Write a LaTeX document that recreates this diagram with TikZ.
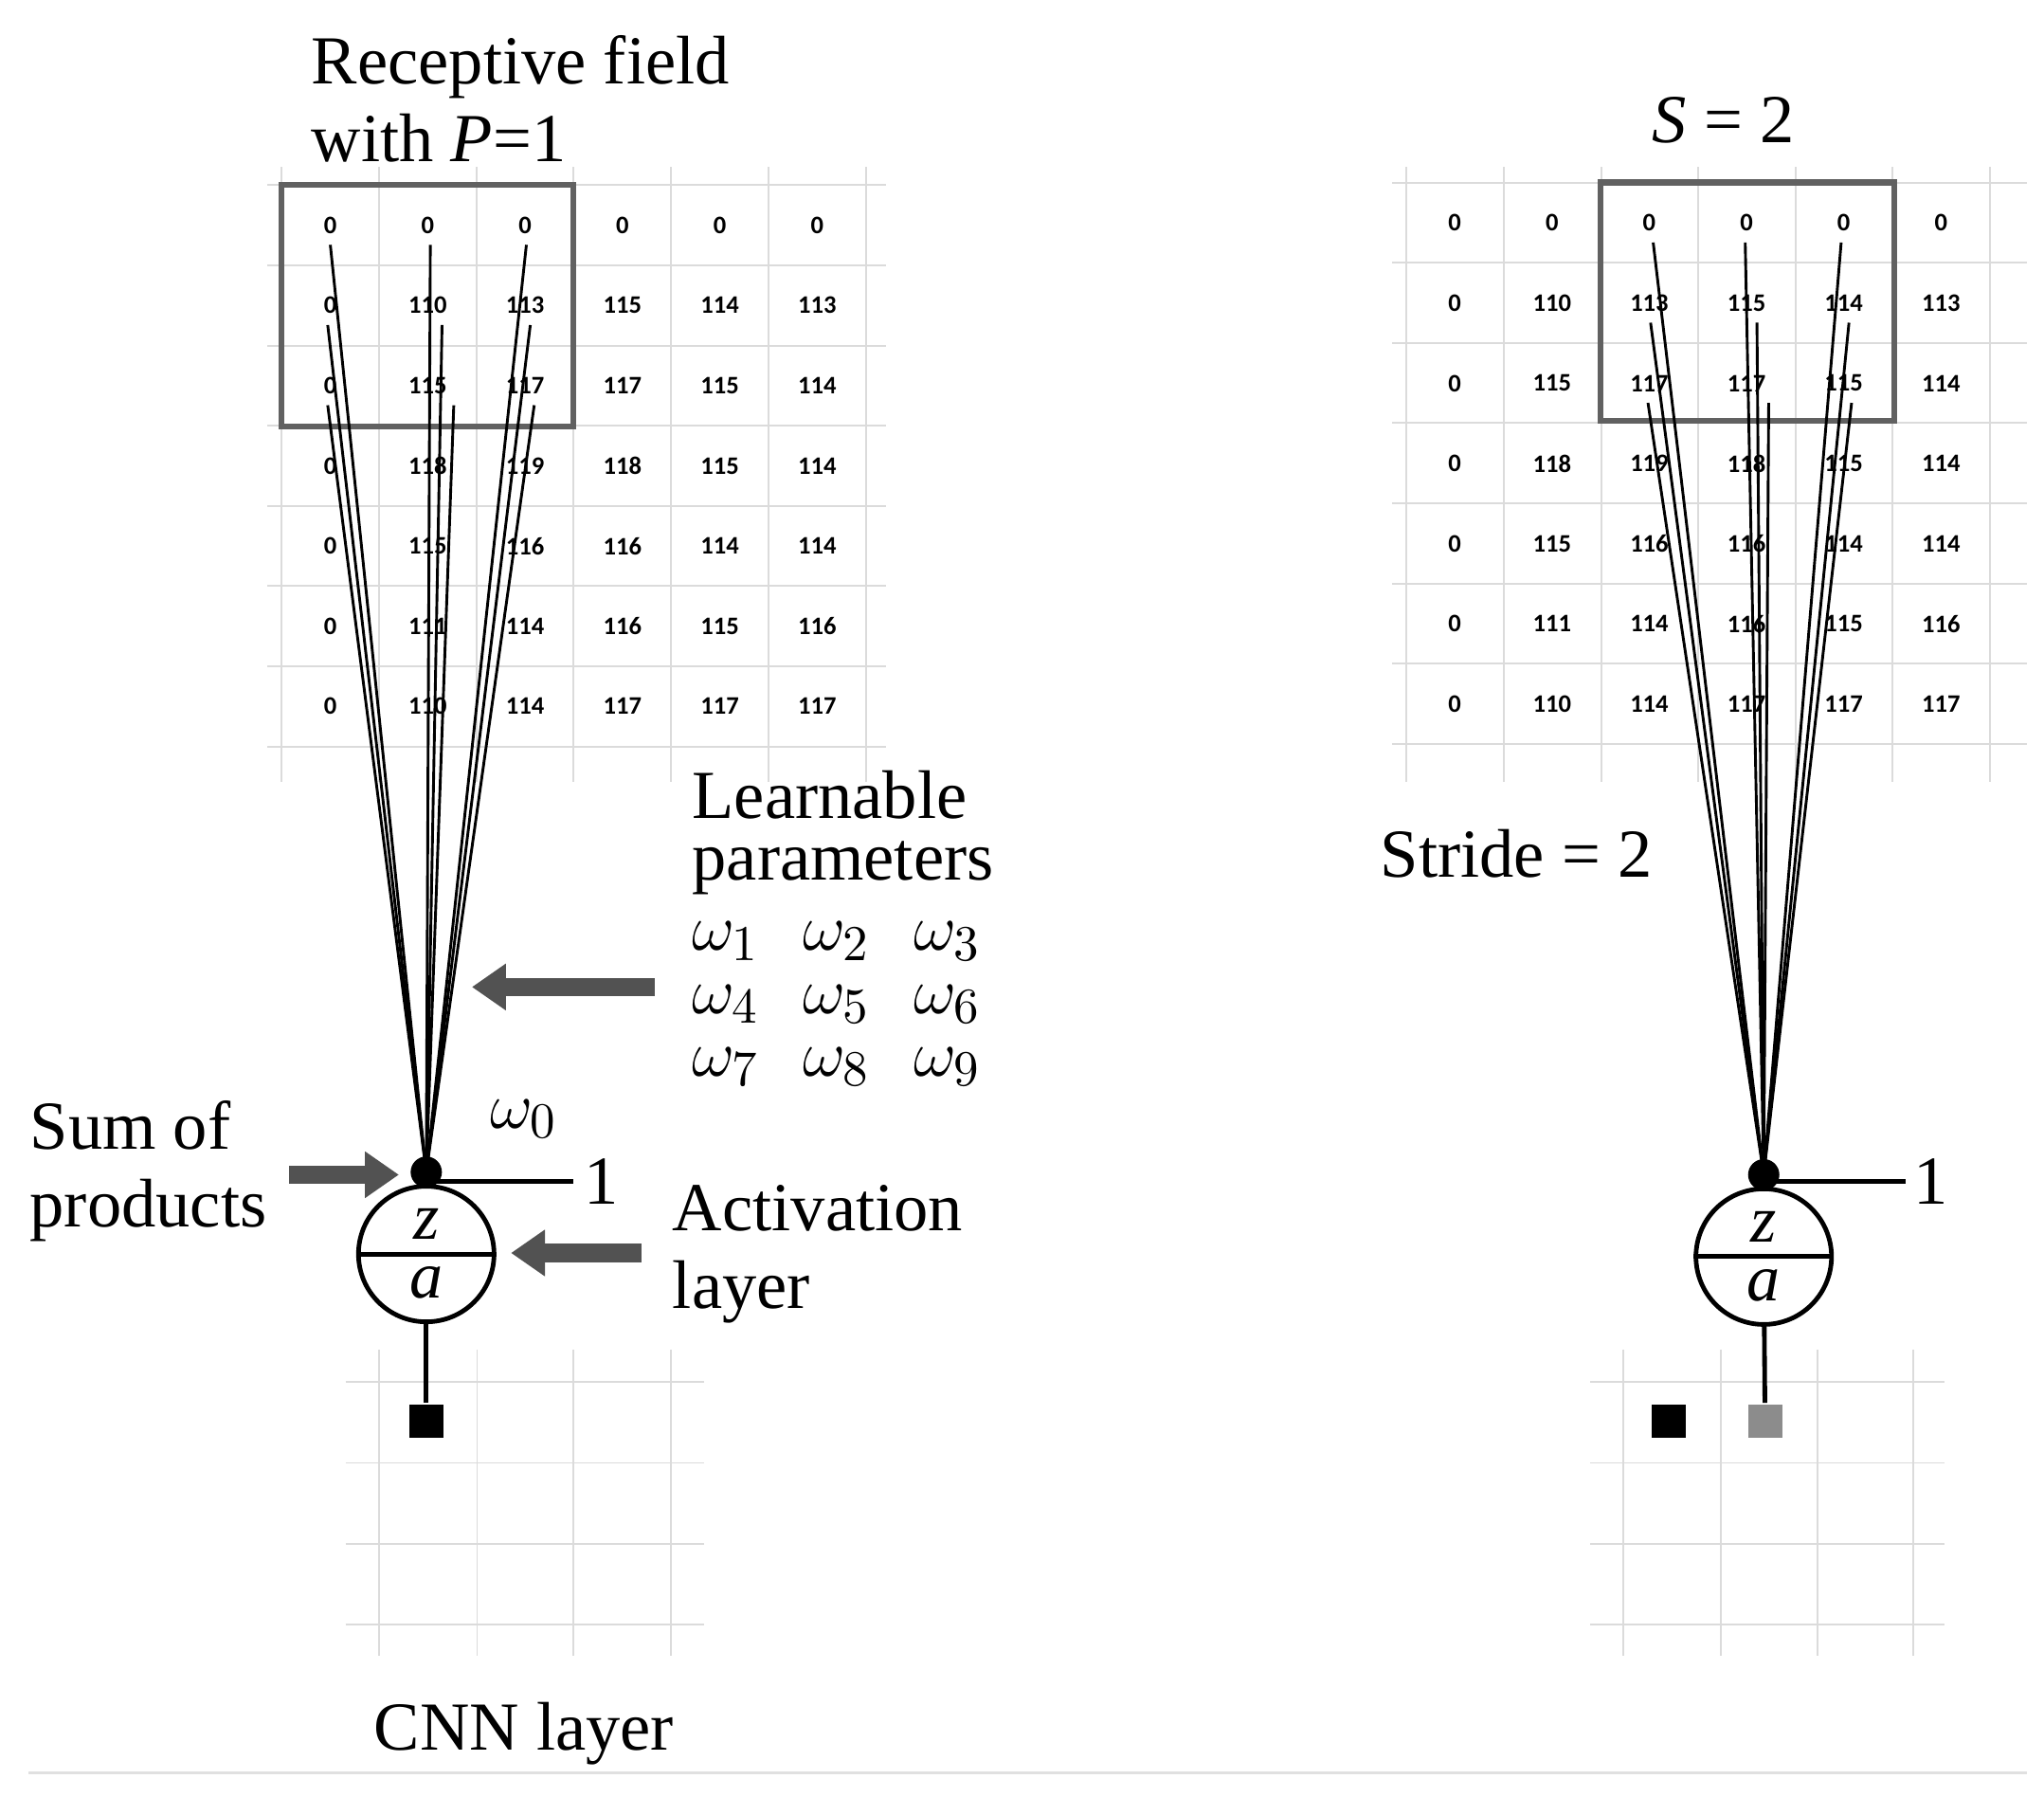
\documentclass[tikz,border=0pt]{standalone}
\usepackage{fontspec}
\setmainfont{Liberation Serif}
\newfontfamily\cellfont{Carlito}
\usetikzlibrary{arrows.meta,positioning,calc}

\begin{document}
\begin{tikzpicture}[x=0.1mm, y=-0.1mm, semithick, node distance=1mm]
\tikzstyle{txt}=[font=\fontsize{15}{17}\selectfont, inner sep=0pt, align=left]
\tikzstyle{part}=[font=\fontsize{14.5}{12.8}\selectfont\itshape, inner sep=0pt, align=center]
\tikzstyle{cell}=[font=\cellfont\bfseries\fontsize{5.5}{6}\selectfont, inner sep=0pt]
\tikzstyle{gridline}=[draw=black!14, line width=0.4pt]
\tikzstyle{rfbox}=[draw=black!62, line width=1.3pt]
\tikzstyle{fan}=[draw=black, line width=0.6pt]
\tikzstyle{wire}=[draw=black, line width=1pt]
\tikzstyle{dot}=[circle, fill=black, inner sep=0pt, minimum size=2.4mm]
\tikzstyle{unit}=[circle, draw=black, line width=1pt, inner sep=0pt, minimum size=10.4mm]
\tikzstyle{outsq}=[rectangle, inner sep=0pt, minimum size=2.6mm]
\tikzstyle{bigarrow}=[draw=black!68, line width=1.4mm, -{Triangle[length=2.6mm,width=3.4mm]}]

\useasboundingbox (0,0) rectangle (1568,1378);

\foreach \k in {0,...,6} {
  \draw[gridline] ({216+74.7*\k},128) -- ({216+74.7*\k},600);
  \draw[gridline] ({1079+74.6*\k},128) -- ({1079+74.6*\k},600);
}
\foreach \k in {0,...,7} {
  \draw[gridline] (205,{142+61.5*\k}) -- (680,{142+61.5*\k});
  \draw[gridline] (1068,{140+61.5*\k}) -- (1555,{140+61.5*\k});
}
\foreach \row [count=\ri from 0] in {{0,0,0,0,0,0},{0,110,113,115,114,113},{0,115,117,117,115,114},{0,118,119,118,115,114},{0,115,116,116,114,114},{0,111,114,116,115,116},{0,110,114,117,117,117}}
  \foreach \v [count=\ci from 0] in \row {
    \node[cell] (L-\ri-\ci) at ({253.4+74.7*\ci},{172.8+61.5*\ri}) {\v};
    \node[cell] (R-\ri-\ci) at ({1116+74.6*\ci},{171+61.5*\ri}) {\v};
  }
\draw[rfbox] (216,142) rectangle (440,327);
\draw[rfbox] (1228,140) rectangle (1453,323);

\foreach \gx in {291,366,440,515} \draw[gridline] (\gx,1035) -- (\gx,1270);
\foreach \gx in {1245,1320,1394,1468} \draw[gridline] (\gx,1035) -- (\gx,1270);
\foreach \gy in {1060,1122,1184,1246} {
  \draw[gridline] (265,\gy) -- (540,\gy);
  \draw[gridline] (1220,\gy) -- (1492,\gy);
}

\node[dot] (Ldot) at (327,899) {};
\node[unit, below=-0.4mm of Ldot] (Lunit) {};
\draw[wire] (Lunit.west) -- (Lunit.east);
\node[part] (Lza) at (Lunit.center) {z\\a};
\node[outsq, fill=black] (Lout) at (327,1090) {};
\draw[wire] (Lunit) -- (Lout);
\coordinate (Lend) at (440,906);
\draw[wire] (Ldot.center |- Lend) -- (Lend);
\node[txt, right=0.7mm of Lend] (Lone) {1};
\node[txt] (Lw0) at (402,858) {$\omega_0$};

\node[dot] (Rdot) at (1353,901) {};
\node[unit, below=-0.4mm of Rdot] (Runit) {};
\draw[wire] (Runit.west) -- (Runit.east);
\node[part] (Rza) at (Runit.center) {z\\a};
\node[outsq, fill=black] (Rblk) at (1280,1090) {};
\node[outsq, fill=black!45] (Rout) at (1354,1090) {};
\draw[wire] (Runit) -- (Rout);
\coordinate (Rend) at (1462,906);
\draw[wire] (Rdot.center |- Rend) -- (Rend);
\node[txt, right=0.5mm of Rend] (Rone) {1};

\foreach \ri/\ci/\dx in {0/0/0,0/1/2,0/2/1,1/0/-2,1/1/11,1/2/4,2/0/-2,2/1/20,2/2/7}
  \draw[fan] ($(L-\ri-\ci)+(\dx,15)$) -- (Ldot.center);
\foreach \ri/\ci/\dx in {0/2/3,0/3/-1,0/4/-2,1/2/1,1/3/8,1/4/4,2/2/-1,2/3/17,2/4/6}
  \draw[fan] ($(R-\ri-\ci)+(\dx,15)$) -- (Rdot.center);

\node[txt, anchor=north west] (recep) at (238,26) {Receptive field\\with \textit{P}=1};
\node[txt] (sval) at (1322,92) {\textit{S} = 2};
\node[txt, anchor=north west] (learn) at (530,590) {Learnable\\[-3.5pt]parameters};
\foreach \wr in {0,1,2}
  \foreach \wc in {0,1,2} {
    \pgfmathtruncatemacro\wn{3*\wr+\wc+1}
    \node[txt, anchor=west] (w\wn) at ({530+85*\wc},{722+48*\wr}) {$\omega_{\wn}$};
  }
\node[txt, anchor=west] (strd) at (1058,655) {Stride = 2};
\node[txt, anchor=north west] (sump) at (22,843) {Sum of\\products};
\node[txt, anchor=north west] (actl) at (515,908) {Activation\\layer};
\node[txt] (cnn) at (402,1330) {CNN layer};
\draw[draw=black!12, line width=0.6pt] (22,1360) -- (1555,1360);

\coordinate (Apar-s) at (502,757);
\coordinate (Apar-e) at (362,757);
\coordinate (Asum-s) at (222,901);
\coordinate (Asum-e) at (306,901);
\coordinate (Aact-s) at (492,961);
\coordinate (Aact-e) at (392,961);
\draw[bigarrow] (Apar-s) -- (Apar-e);
\draw[bigarrow] (Asum-s) -- (Asum-e);
\draw[bigarrow] (Aact-s) -- (Aact-e);
\end{tikzpicture}
\end{document}
